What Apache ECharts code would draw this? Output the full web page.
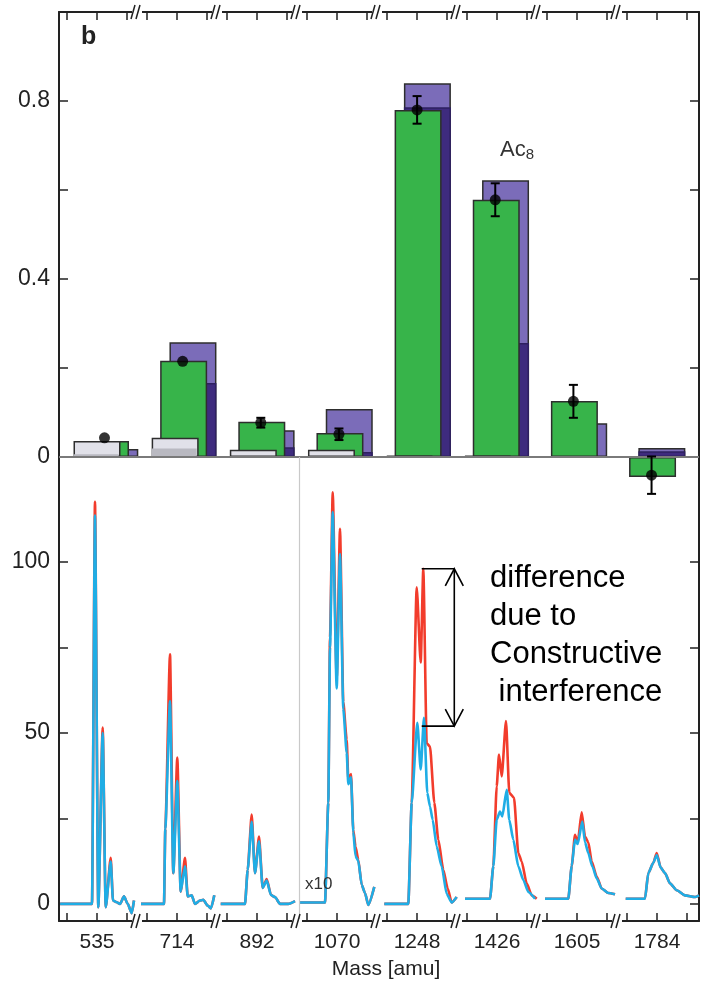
<!DOCTYPE html>
<html>
<head>
<meta charset="utf-8">
<script src="https://cdn.jsdelivr.net/npm/echarts@6/dist/echarts.min.js"></script>
<style>
html, body { margin: 0; padding: 0; background: #fff; }
#chart { width: 707px; height: 985px; }
</style>
</head>
<body>
<div id="chart"></div>
<script>
// peak masses (x axis labels)
var massLabels = ['535', '714', '892', '1070', '1248', '1426', '1605', '1784']

// panel b bars, one value per peak
var grayBars = [0.036, 0.043, 0.016, 0.016, 0.003, 0.003, null, null]
var grayDark = [0.006, 0.019, 0, 0, null, null, null, null]
var greenBars = [0.036, 0.216, 0.079, 0.054, 0.78, 0.578, 0.126, -0.045]
var purpleBars = [0.018, 0.258, 0.06, 0.108, 0.84, 0.622, 0.076, 0.02]
var purpleDark = [0, 0.166, 0.022, 0.011, 0.786, 0.256, 0, 0.013]
var dotValues = [0.043, 0.215, 0.077, 0.051, 0.78, 0.578, 0.125, -0.041]
var dotErrors = [0, 0, 0.011, 0.013, 0.031, 0.037, 0.037, 0.042]

// spectra: [mass offset from the peak label (amu), intensity]
var redSpec = [
    [[-12.3,0],[-1.67,0],[-0.67,117.6],[0.43,-1],[1.9,51.6],[2.9,-1],[4.57,13.5],[5.33,1],[6.57,0.5],[7.67,0],[9,2.2],[10.23,0],[11.57,-2.7],[12.33,1]],
    [[-12,0],[-4.33,0],[-3.9,22],[-2.33,73],[-1.23,9],[0.1,42.8],[1.23,3.6],[2.67,13.5],[3.57,2.2],[4.9,2.5],[6,0],[7.67,1],[8.77,1.2],[10.23,-0.5],[11.33,-1.3],[12.43,2.5]],
    [[-12.1,0],[-4,0],[-3.1,10],[-1.77,26.1],[-0.67,9],[0.67,19.7],[1.9,4.7],[3.23,7.3],[4.67,2.6],[6,2],[7.67,0],[10.43,0],[12.67,0.8]],
    [[-12.33,0.4],[-4,0.4],[-2.9,29.6],[-2.33,78],[-1.43,120.4],[-0.1,65.7],[1,109.7],[2.1,59],[3.23,48],[3.77,36.4],[4.67,38],[5.43,21.7],[6.17,16.8],[7.1,12.9],[8.23,5.6],[9.33,3.2],[10.43,-0.3],[12.43,5]],
    [[-10.9,0],[-2.9,0],[-1.77,29.6],[-0.1,92.6],[1.23,70.6],[2.1,98],[3.23,47],[4.33,46],[5.77,29.6],[7.1,18.8],[8.77,10],[10.23,4.5],[11.57,0.4],[13.23,2]],
    [[-10.67,1.5],[-2.33,1.5],[-1.23,11],[-0.1,34.4],[0.67,43.7],[1.57,37.3],[3,53.5],[4.1,32.5],[5.67,31],[7.1,14.9],[8.23,12.4],[9.9,6],[11.57,2.5],[13.23,1.5]],
    [[-10.67,1.5],[-2.9,1.5],[-1.77,11],[-0.67,20.2],[0.23,18],[1.57,26.8],[2.67,19.7],[3.77,18],[4.9,12.4],[6.57,8],[8.23,4.5],[10.43,3.2],[12.67,2.8]],
    [[-10.43,1.5],[-4,1.5],[-2.9,9],[-1.23,12],[-0.1,14.9],[1.23,10.6],[2.67,9],[4.33,6],[6.57,4],[9.33,2.5],[12.67,2],[14,2.5]]
]
var blueSpec = [
    [[-12.3,0],[-1.67,0],[-0.67,113.6],[0.43,-1],[1.9,50],[2.9,-1],[4.57,12.4],[5.33,1],[6.57,0.5],[7.67,0],[9,2.2],[10.23,0],[11.57,-2.7],[12.33,1]],
    [[-12,0],[-4.33,0],[-3.9,22],[-2.33,59.3],[-1.23,9],[0.1,35.9],[1.23,3.6],[2.67,11],[3.57,2.2],[4.9,2.5],[6,0],[7.67,1],[8.77,1.2],[10.23,-0.5],[11.33,-1.3],[12.43,2.5]],
    [[-12.1,0],[-4,0],[-3.1,10],[-1.77,24],[-0.67,9],[0.67,18.3],[1.9,4.7],[3.23,6.8],[4.67,2.6],[6,2],[7.67,0],[10.43,0],[12.67,0.8]],
    [[-12.33,0.4],[-4,0.4],[-2.9,29.6],[-2.33,75],[-1.43,114.6],[-0.1,63],[1,102.3],[2.1,57],[3.23,44.2],[3.77,35],[4.67,37],[5.43,21],[6.17,14],[7.1,12.5],[8.23,5.6],[9.33,3.2],[10.43,-0.3],[12.43,5]],
    [[-10.9,0],[-2.9,0],[-1.77,29.6],[0.1,53],[1.23,39.3],[2.33,54.4],[3.43,32.5],[4.33,28.5],[5.23,24.6],[6.57,16.8],[8.23,11],[9.9,2.9],[11.57,0.4],[13.23,2]],
    [[-10.67,1.5],[-2.33,1.5],[-1.23,11],[-0.1,24.6],[1,27],[1.77,25.6],[3.23,33.4],[4.1,24.6],[5.43,18.8],[7.1,11],[8.77,7],[10.43,3.5],[12.67,1.5]],
    [[-10.67,1.5],[-2.9,1.5],[-1.77,11],[-0.67,18.8],[0.23,17.5],[1.77,24.1],[2.67,18],[3.77,14.9],[5.1,11],[6.57,7.5],[8.23,4.5],[10.43,3.2],[12.67,2.8]],
    [[-10.43,1.5],[-4,1.5],[-2.9,9],[-1.23,12],[-0.1,14.3],[1.23,10.6],[2.67,9],[4.33,6],[6.57,4],[9.33,2.5],[12.67,2],[14,2.5]]
]

// arrow marking the red/blue difference at 1248 (top, bottom)
var arrowLevels = [98, 52]

// layout of the broken mass axis
const SPAN = 80 / 3          // amu shown per peak window
const START = -38 / 3        // window start relative to the label
const AXIS_MAX = 8 * SPAN + START
const BAR_STEP = 26.05
const BAR_START = 2.5
const FONT = "'Liberation Sans', Arial, sans-serif"
const NARROW = "'Liberation Sans Narrow', 'Liberation Sans', sans-serif"

var tickVals = []
for (let k = 0; k < 8; k++) tickVals.push(k * SPAN - 10, k * SPAN, k * SPAN + 10)
var labelVals = massLabels.map((m, k) => k * SPAN)
var breakVals = []
for (let k = 1; k < 8; k++) breakVals.push([k * SPAN + START - 0.67])

const barX = (k, off) => BAR_START + k * BAR_STEP + off
const barData = (vals, off) => vals.map((v, k) => v == null ? [barX(k, off), '-'] : [barX(k, off), v])

const breakMark = (edge) => (params, api) => {
    let p = api.coord([api.value(0), edge])
    let x = p[0], y = p[1]
    let st = { stroke: '#222', lineWidth: 1.5 }
    return {
        type: 'group',
        children: [
            { type: 'rect', shape: { x: x - 5, y: y - 2, width: 10, height: 4 }, style: { fill: '#fff' } },
            { type: 'line', shape: { x1: x - 6, y1: y + 7, x2: x - 2, y2: y - 7 }, style: st },
            { type: 'line', shape: { x1: x - 1, y1: y + 7, x2: x + 3, y2: y - 7 }, style: st }
        ]
    }
}

const axisLine = { show: true, onZero: false, lineStyle: { color: '#222', width: 2 } }

var series = []

// panel b
series.push({
    type: 'bar', xAxisIndex: 0, yAxisIndex: 0, barWidth: 47, barGap: '-100%',
    data: barData(purpleBars, 3.1),
    itemStyle: { color: '#7b6cb9', borderColor: '#2e2e2e', borderWidth: 1.5 },
    markLine: {
        silent: true, symbol: ['none', 'none'], label: { show: false },
        lineStyle: { color: '#7a7a7a', width: 2, type: 'solid' },
        data: [{ yAxis: 0 }]
    }
})
series.push({
    type: 'bar', xAxisIndex: 0, yAxisIndex: 0, barWidth: 47, barGap: '-100%',
    data: barData(purpleDark, 3.1),
    itemStyle: { color: '#3e2b7e', borderColor: '#2e2060', borderWidth: 1.5 }
})
series.push({
    type: 'bar', xAxisIndex: 0, yAxisIndex: 0, barWidth: 47, barGap: '-100%',
    data: barData(greenBars, 0),
    itemStyle: { color: '#37b44a', borderColor: '#2e2e2e', borderWidth: 1.5 }
})
series.push({
    type: 'bar', xAxisIndex: 0, yAxisIndex: 0, barWidth: 47, barGap: '-100%',
    data: barData(grayBars, -2.83),
    itemStyle: { color: '#e1e1e9', borderColor: '#2e2e2e', borderWidth: 1.5 }
})
series.push({
    type: 'bar', xAxisIndex: 0, yAxisIndex: 0, barWidth: 45, barGap: '-100%',
    data: barData(grayDark, -2.83),
    itemStyle: { color: '#b9b9c1' }
})
series.push({
    type: 'custom', xAxisIndex: 0, yAxisIndex: 0, clip: false, z: 5,
    data: dotValues.map((v, k) => [barX(k, 0), v, dotErrors[k]]),
    renderItem: (params, api) => {
        let e = api.value(2)
        if (!e) return { type: 'group', children: [] }
        let t = api.coord([api.value(0), api.value(1) + e])
        let b = api.coord([api.value(0), api.value(1) - e])
        let st = { stroke: '#000', lineWidth: 2 }
        return {
            type: 'group',
            children: [
                { type: 'line', shape: { x1: t[0], y1: t[1], x2: b[0], y2: b[1] }, style: st },
                { type: 'line', shape: { x1: t[0] - 4.5, y1: t[1], x2: t[0] + 4.5, y2: t[1] }, style: st },
                { type: 'line', shape: { x1: b[0] - 4.5, y1: b[1], x2: b[0] + 4.5, y2: b[1] }, style: st }
            ]
        }
    }
})
series.push({
    type: 'scatter', xAxisIndex: 0, yAxisIndex: 0, symbolSize: 11, z: 6,
    itemStyle: { color: '#000' },
    data: dotValues.map((v, k) => [barX(k, 0), v])
})
series.push({
    type: 'custom', xAxisIndex: 0, yAxisIndex: 0, clip: false, z: 6,
    data: breakVals, renderItem: breakMark(1.0)
})

// spectra
redSpec.forEach((seg, k) => {
    let s = {
        type: 'line', xAxisIndex: 1, yAxisIndex: 2, symbol: 'none',
        smooth: 0.2, smoothMonotone: 'x',
        lineStyle: { color: '#f23c2c', width: 2.6 },
        data: seg.map(p => [k * SPAN + p[0], p[1]])
    }
    if (k == 0) {
        s.markLine = {
            silent: true, symbol: ['none', 'none'], label: { show: false },
            lineStyle: { color: '#c9c9c9', width: 1.2, type: 'solid' },
            data: [{ xAxis: 3 * SPAN + START }]
        }
    }
    series.push(s)
})
blueSpec.forEach((seg, k) => {
    series.push({
        type: 'line', xAxisIndex: 1, yAxisIndex: 2, symbol: 'none',
        smooth: 0.2, smoothMonotone: 'x',
        lineStyle: { color: '#1fade5', width: 2.6 },
        data: seg.map(p => [k * SPAN + p[0], p[1]])
    })
})
series.push({
    type: 'custom', xAxisIndex: 1, yAxisIndex: 2, clip: false, z: 5,
    data: [[4 * SPAN + 12.43, 4 * SPAN + 1.57, arrowLevels[0], arrowLevels[1]]],
    renderItem: (params, api) => {
        let t = api.coord([api.value(0), api.value(2)])
        let b = api.coord([api.value(0), api.value(3)])
        let l = api.coord([api.value(1), api.value(2)])
        let st = { stroke: '#000', lineWidth: 1.6, fill: null }
        return {
            type: 'group',
            children: [
                { type: 'line', shape: { x1: t[0], y1: t[1], x2: b[0], y2: b[1] }, style: st },
                { type: 'line', shape: { x1: l[0], y1: t[1], x2: t[0], y2: t[1] }, style: st },
                { type: 'line', shape: { x1: l[0], y1: b[1], x2: b[0], y2: b[1] }, style: st },
                { type: 'polyline', shape: { points: [[t[0] - 9, t[1] + 17], [t[0], t[1]], [t[0] + 9, t[1] + 17]] }, style: st },
                { type: 'polyline', shape: { points: [[b[0] - 9, b[1] - 17], [b[0], b[1]], [b[0] + 9, b[1] - 17]] }, style: st }
            ]
        }
    }
})
series.push({
    type: 'custom', xAxisIndex: 1, yAxisIndex: 2, clip: false, z: 6,
    data: breakVals, renderItem: breakMark(-5)
})

var option = {
    animation: false,
    backgroundColor: '#fff',
    grid: [
        { left: 59, right: 8, top: 12, height: 485, outerBoundsMode: 'none' },
        { left: 59, right: 8, top: 457, height: 464, outerBoundsMode: 'none' }
    ],
    xAxis: [
        {
            gridIndex: 0, type: 'value', position: 'top', min: START, max: AXIS_MAX,
            axisLine: axisLine, splitLine: { show: false },
            axisTick: { show: true, inside: true, length: 8, customValues: tickVals, lineStyle: { color: '#222', width: 1.5 } },
            axisLabel: { show: false }
        },
        {
            gridIndex: 1, type: 'value', position: 'bottom', min: START, max: AXIS_MAX,
            axisLine: axisLine, splitLine: { show: false },
            axisTick: { show: true, inside: true, length: 8, customValues: tickVals, lineStyle: { color: '#222', width: 1.5 } },
            axisLabel: {
                show: true, customValues: labelVals, margin: 11,
                fontFamily: NARROW, fontSize: 21, color: '#222',
                formatter: v => massLabels[Math.round(v / SPAN)]
            },
            name: 'Mass [amu]', nameLocation: 'middle', nameGap: 38,
            nameTextStyle: { fontFamily: FONT, fontSize: 21, color: '#222', padding: [0, 0, 0, 14] }
        }
    ],
    yAxis: [
        {
            gridIndex: 0, type: 'value', position: 'left', min: -0.09, max: 1.0,
            axisLine: axisLine, splitLine: { show: false },
            axisTick: { show: true, inside: true, length: 9, customValues: [0, 0.2, 0.4, 0.6, 0.8], lineStyle: { color: '#222', width: 1.5 } },
            axisLabel: { show: true, customValues: [0, 0.4, 0.8], margin: 9, fontFamily: NARROW, fontSize: 23, color: '#222' }
        },
        {
            gridIndex: 0, type: 'value', position: 'right', min: -0.09, max: 1.0,
            axisLine: axisLine, splitLine: { show: false },
            axisTick: { show: true, inside: true, length: 9, customValues: [0, 0.2, 0.4, 0.6, 0.8], lineStyle: { color: '#222', width: 1.5 } },
            axisLabel: { show: false }
        },
        {
            gridIndex: 1, type: 'value', position: 'left', min: -5, max: 130.7,
            axisLine: axisLine, splitLine: { show: false },
            axisTick: { show: true, inside: true, length: 9, customValues: [0, 25, 50, 75, 100], lineStyle: { color: '#222', width: 1.5 } },
            axisLabel: { show: true, customValues: [0, 50, 100], margin: 9, fontFamily: NARROW, fontSize: 23, color: '#222' }
        },
        {
            gridIndex: 1, type: 'value', position: 'right', min: -5, max: 130.7,
            axisLine: axisLine, splitLine: { show: false },
            axisTick: { show: true, inside: true, length: 9, customValues: [0, 25, 50, 75, 100], lineStyle: { color: '#222', width: 1.5 } },
            axisLabel: { show: false }
        }
    ],
    graphic: [
        { type: 'text', left: 81, top: 25, z: 100, style: { text: 'b', fontFamily: FONT, fontWeight: 'bold', fontSize: 25, fill: '#222' } },
        {
            type: 'text', left: 500, top: 139, z: 100,
            style: {
                text: '{a|Ac}{s|8}',
                rich: {
                    a: { fontFamily: FONT, fontSize: 22, fill: '#333' },
                    s: { fontFamily: FONT, fontSize: 15, fill: '#333', padding: [10, 0, 0, 0] }
                }
            }
        },
        { type: 'text', left: 305, top: 876, z: 100, style: { text: 'x10', fontFamily: FONT, fontSize: 17, fill: '#333' } },
        {
            type: 'text', left: 490, top: 559, z: 100,
            style: {
                text: 'difference\ndue to\nConstructive\n interference',
                fontFamily: FONT, fontSize: 31, lineHeight: 38, fill: '#000'
            }
        }
    ],
    series: series
}

var chart = echarts.init(document.getElementById('chart'), null, { renderer: 'canvas' })
chart.setOption(option)
</script>
</body>
</html>
